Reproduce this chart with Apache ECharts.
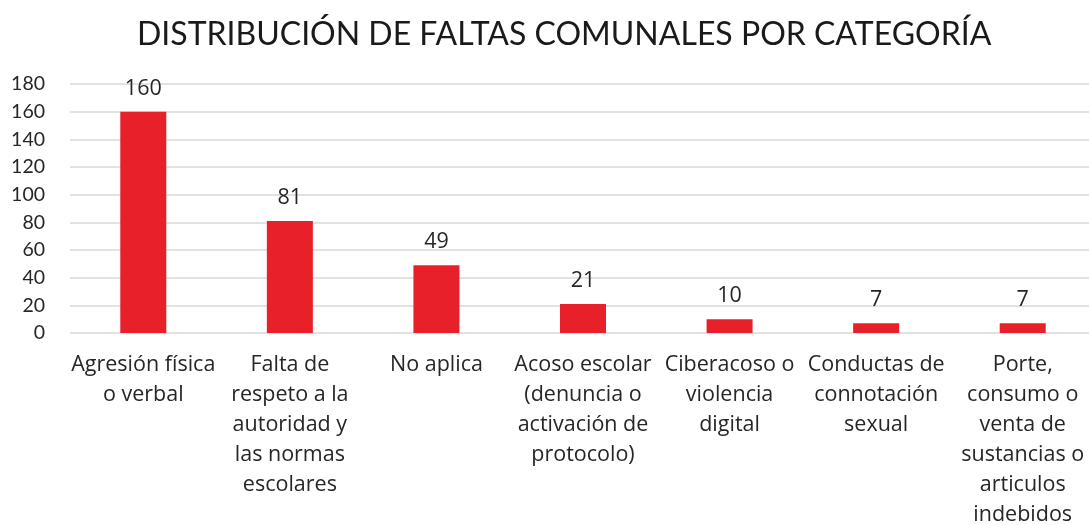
<!DOCTYPE html>
<html>
<head>
<meta charset="utf-8">
<script src="https://cdn.jsdelivr.net/npm/echarts@6/dist/echarts.min.js"></script>
<style>
  html, body { margin: 0; padding: 0; background: #fff; }
  #chart { width: 1089px; height: 525px; }
</style>
</head>
<body>
<div id="chart"></div>
<script>
// categories (line breaks as in the original)
var categories = [
  "Agresión física\no verbal",
  "Falta de\nrespeto a la\nautoridad y\nlas normas\nescolares",
  "No aplica",
  "Acoso escolar\n(denuncia o\nactivación de\nprotocolo)",
  "Ciberacoso o\nviolencia\ndigital",
  "Conductas de\nconnotación\nsexual",
  "Porte,\nconsumo o\nventa de\nsustancias o\narticulos\nindebidos"
];
var values = [160, 81, 49, 21, 10, 7, 7];
var yTicks = [0, 20, 40, 60, 80, 100, 120, 140, 160, 180];

var font = "Lato, 'Open Sans', sans-serif";
var labelFont = "'Open Sans', Lato, sans-serif";
var chart = echarts.init(document.getElementById("chart"));
chart.setOption({
  animation: false,
  title: {
    text: "DISTRIBUCIÓN DE FALTAS COMUNALES POR CATEGORÍA",
    left: 132,
    top: 14,
    textStyle: {
      fontFamily: font,
      fontWeight: "normal",
      fontSize: 32,
      color: "#1a1a1a"
    }
  },
  grid: {
    left: 70,
    right: -7,
    top: 84,
    bottom: 192,
    outerBoundsMode: "none",
    containLabel: false
  },
  xAxis: {
    type: "category",
    data: categories,
    axisLine: { show: false },
    axisTick: { show: false },
    axisLabel: {
      interval: 0,
      margin: 17,
      fontFamily: labelFont,
      fontSize: 21.5,
      lineHeight: 30,
      color: "#262626",
      verticalAlign: "top"
    }
  },
  yAxis: {
    type: "value",
    min: yTicks[0],
    max: yTicks[yTicks.length - 1],
    interval: 20,
    axisLine: { show: false },
    axisTick: { show: false },
    splitLine: { lineStyle: { color: "#d9d9d9", width: 1.5 } },
    axisLabel: {
      margin: 25,
      fontFamily: font,
      fontSize: 19.5,
      color: "#262626"
    }
  },
  series: [
    {
      type: "bar",
      data: values,
      barWidth: 46,
      itemStyle: { color: "#e8202a" },
      label: {
        show: true,
        position: "top",
        distance: 12,
        fontFamily: labelFont,
        fontSize: 21.5,
        color: "#262626"
      }
    }
  ]
});
</script>
</body>
</html>
